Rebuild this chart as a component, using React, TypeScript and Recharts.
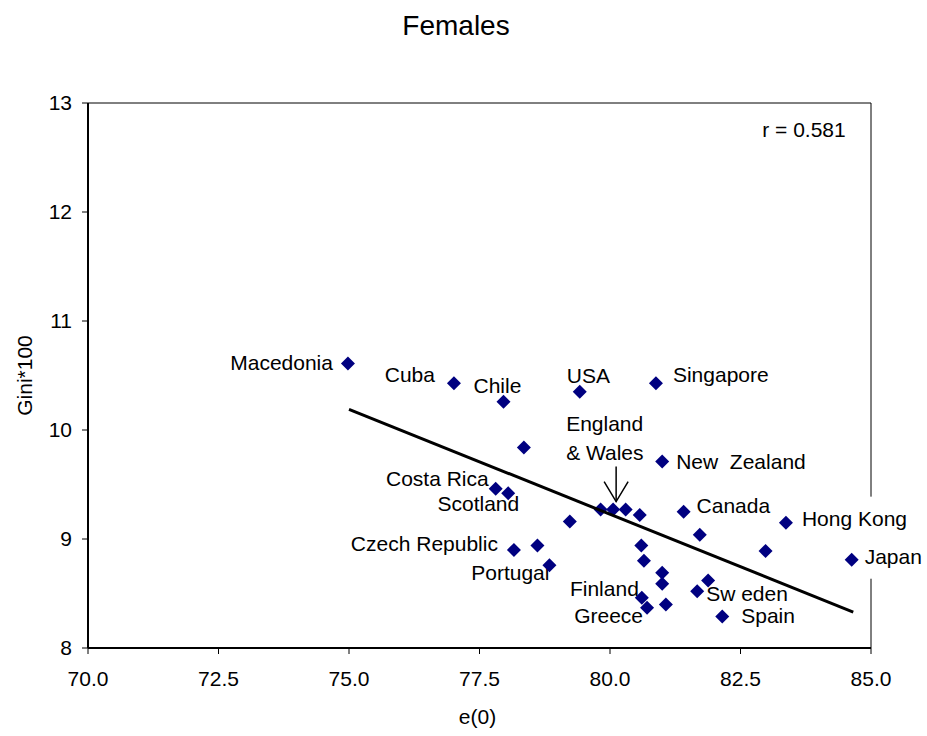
import React from 'react';
import { ScatterChart, Scatter, XAxis, YAxis } from 'recharts';

// Female life expectancy at birth, e(0), against the Gini index of age at death (x100).
const countries = [
  'Macedonia', 'Cuba', 'Chile', '', 'Costa Rica', 'Scotland', 'USA', 'Singapore',
  'New  Zealand', 'Canada', '', 'England & Wales', '', '', '', 'Czech Republic',
  '', 'Portugal', '', '', '', '', 'Finland', 'Greece',
  '', '', 'Hong Kong', '', 'Japan', '', 'Sw eden', 'Spain',
];
const lifeExpectancy = [
  74.98, 77.01, 77.96, 78.35, 77.81, 78.05, 79.42, 80.88,
  81.0, 81.41, 79.82, 80.06, 80.3, 80.57, 79.23, 78.16,
  78.61, 78.84, 80.6, 80.65, 81.0, 81.0, 80.61, 80.71,
  81.07, 81.72, 83.37, 82.98, 84.63, 81.88, 81.67, 82.15,
];
const giniIndex = [
  10.61, 10.43, 10.26, 9.84, 9.46, 9.42, 10.35, 10.43,
  9.71, 9.25, 9.27, 9.27, 9.27, 9.22, 9.16, 8.9,
  8.94, 8.76, 8.94, 8.8, 8.69, 8.59, 8.46, 8.37,
  8.4, 9.04, 9.15, 8.89, 8.81, 8.62, 8.52, 8.29,
];
// Least-squares line endpoints
const trendE0 = [75.0, 84.66];
const trendGini = [10.19, 8.33];
const correlationText = 'r = 0.581';

const xTicks = [70, 72.5, 75, 77.5, 80, 82.5, 85];
const yTicks = [8, 9, 10, 11, 12, 13];
const xDomain = [70, 85];
const yDomain = [8, 13];

// Where each country name sits relative to its marker (pixels)
type Placement = { dx: number; dy: number; anchor: 'start' | 'end'; boxed?: boolean };
const labelPlacement: Record<string, Placement> = {
  'Macedonia': { dx: -15, dy: 6, anchor: 'end' },
  'Cuba': { dx: -19, dy: -1, anchor: 'end' },
  'Chile': { dx: -30, dy: -9, anchor: 'start' },
  'Costa Rica': { dx: -7, dy: -3, anchor: 'end' },
  'Scotland': { dx: 11, dy: 18, anchor: 'end' },
  'USA': { dx: -13, dy: -9, anchor: 'start' },
  'Singapore': { dx: 17, dy: -1, anchor: 'start' },
  'New  Zealand': { dx: 14, dy: 7, anchor: 'start' },
  'Canada': { dx: 13, dy: 1, anchor: 'start' },
  'Czech Republic': { dx: -16, dy: 1, anchor: 'end' },
  'Portugal': { dx: 0, dy: 15, anchor: 'end' },
  'Finland': { dx: -3, dy: -2, anchor: 'end' },
  'Greece': { dx: -4, dy: 15, anchor: 'end' },
  'Sw eden': { dx: 9, dy: 10, anchor: 'start' },
  'Spain': { dx: 19, dy: 7, anchor: 'start' },
  'Hong Kong': { dx: 16, dy: 3, anchor: 'start', boxed: true },
  'Japan': { dx: 13, dy: 4, anchor: 'start', boxed: true },
};

const FONT = '"Liberation Sans", Arial, sans-serif';
const LABEL_SIZE = 21;
const MARKER = '#000080';

const points = lifeExpectancy.map((x, i) => ({ x, y: giniIndex[i], name: countries[i] }));
const namedPoints = points.filter((p) => p.name !== '');
const trendPoints = trendE0.map((x, i) => ({ x, y: trendGini[i] }));
const frameCorners = [
  { x: xDomain[0], y: yDomain[1] },
  { x: xDomain[1], y: yDomain[1] },
  { x: xDomain[1], y: yDomain[0] },
];

const Diamond = (props: any) => {
  const { cx, cy } = props;
  if (cx == null || cy == null) return <g />;
  const r = 7;
  return (
    <polygon
      points={`${cx},${cy - r} ${cx + r},${cy} ${cx},${cy + r} ${cx - r},${cy}`}
      fill={MARKER}
    />
  );
};

const Nothing = () => <g />;

const CountryLabel = (props: any) => {
  const { cx, cy, payload } = props;
  if (cx == null || cy == null) return <g />;
  const name: string = payload.name;
  if (name === 'England & Wales') {
    const tipX = cx + 3;
    const tipY = cy - 8;
    return (
      <g>
        <text x={cx - 47} y={cy - 79} fontSize={LABEL_SIZE} fontFamily={FONT} fill="#000">
          England
        </text>
        <text x={cx - 47} y={cy - 50} fontSize={LABEL_SIZE} fontFamily={FONT} fill="#000">
          &amp; Wales
        </text>
        <line x1={tipX} y1={tipY - 35} x2={tipX} y2={tipY} stroke="#000" strokeWidth={1.5} />
        <polyline
          points={`${tipX - 12},${tipY - 20} ${tipX},${tipY} ${tipX + 12},${tipY - 20}`}
          fill="none"
          stroke="#000"
          strokeWidth={1.5}
        />
      </g>
    );
  }
  const place = labelPlacement[name];
  if (!place) return <g />;
  const x = cx + place.dx;
  const y = cy + place.dy;
  const approxWidth = name.length * LABEL_SIZE * 0.56;
  const boxX = place.anchor === 'start' ? x - 5 : x - approxWidth - 5;
  return (
    <g>
      {place.boxed && (
        <rect x={boxX} y={y - 29} width={approxWidth + 10} height={44} fill="#fff" />
      )}
      <text
        x={x}
        y={y}
        textAnchor={place.anchor}
        fontSize={LABEL_SIZE}
        fontFamily={FONT}
        fill="#000"
        style={{ whiteSpace: 'pre' }}
      >
        {name}
      </text>
    </g>
  );
};

const YTitle = (props: any) => {
  const vb = props.viewBox || {};
  const x = vb.x + 4;
  const y = vb.y + vb.height / 2;
  return (
    <text
      x={x}
      y={y}
      transform={`rotate(-90 ${x} ${y})`}
      textAnchor="middle"
      fontSize={LABEL_SIZE}
      fontFamily={FONT}
      fill="#000"
    >
      Gini*100
    </text>
  );
};

const XTitle = (props: any) => {
  const vb = props.viewBox || {};
  return (
    <text
      x={vb.x + vb.width / 2 - 2}
      y={vb.y + 76}
      textAnchor="middle"
      fontSize={LABEL_SIZE}
      fontFamily={FONT}
      fill="#000"
    >
      e(0)
    </text>
  );
};

export default function App() {
  return (
    <div
      style={{
        position: 'absolute',
        left: 0,
        top: 0,
        width: 927,
        height: 736,
        background: '#fff',
        fontFamily: FONT,
      }}
    >
      <div
        style={{
          position: 'absolute',
          left: 356,
          top: 12,
          width: 200,
          textAlign: 'center',
          fontSize: 28,
          lineHeight: '28px',
          color: '#000',
        }}
      >
        Females
      </div>
      <div
        style={{
          position: 'absolute',
          left: 704,
          top: 119,
          width: 200,
          textAlign: 'center',
          fontSize: LABEL_SIZE,
          lineHeight: `${LABEL_SIZE}px`,
          color: '#000',
          zIndex: 2,
        }}
      >
        {correlationText}
      </div>
      <ScatterChart
        width={927}
        height={736}
        margin={{ top: 103, right: 56, bottom: 8, left: 28 }}
      >
        <XAxis
          type="number"
          dataKey="x"
          domain={xDomain}
          ticks={xTicks}
          interval={0}
          height={80}
          tickFormatter={(v: number) => v.toFixed(1)}
          tick={{ fontSize: LABEL_SIZE, fill: '#000', fontFamily: FONT }}
          tickSize={6}
          tickMargin={17}
          axisLine={{ stroke: '#000', strokeWidth: 2 }}
          tickLine={{ stroke: '#000', strokeWidth: 1 }}
          label={<XTitle />}
        />
        <YAxis
          type="number"
          dataKey="y"
          domain={yDomain}
          ticks={yTicks}
          interval={0}
          width={60}
          tick={{ fontSize: LABEL_SIZE, fill: '#000', fontFamily: FONT }}
          tickSize={6}
          tickMargin={10}
          axisLine={{ stroke: '#000', strokeWidth: 2 }}
          tickLine={{ stroke: '#000', strokeWidth: 1 }}
          label={<YTitle />}
        />
        <Scatter
          data={frameCorners}
          line={{ stroke: '#000', strokeWidth: 1 }}
          lineType="joint"
          shape={<Nothing />}
          isAnimationActive={false}
        />
        <Scatter data={namedPoints} shape={<CountryLabel />} isAnimationActive={false} />
        <Scatter data={points} shape={<Diamond />} isAnimationActive={false} />
        <Scatter
          data={trendPoints}
          line={{ stroke: '#000', strokeWidth: 3 }}
          lineType="joint"
          shape={<Nothing />}
          isAnimationActive={false}
        />
      </ScatterChart>
    </div>
  );
}
